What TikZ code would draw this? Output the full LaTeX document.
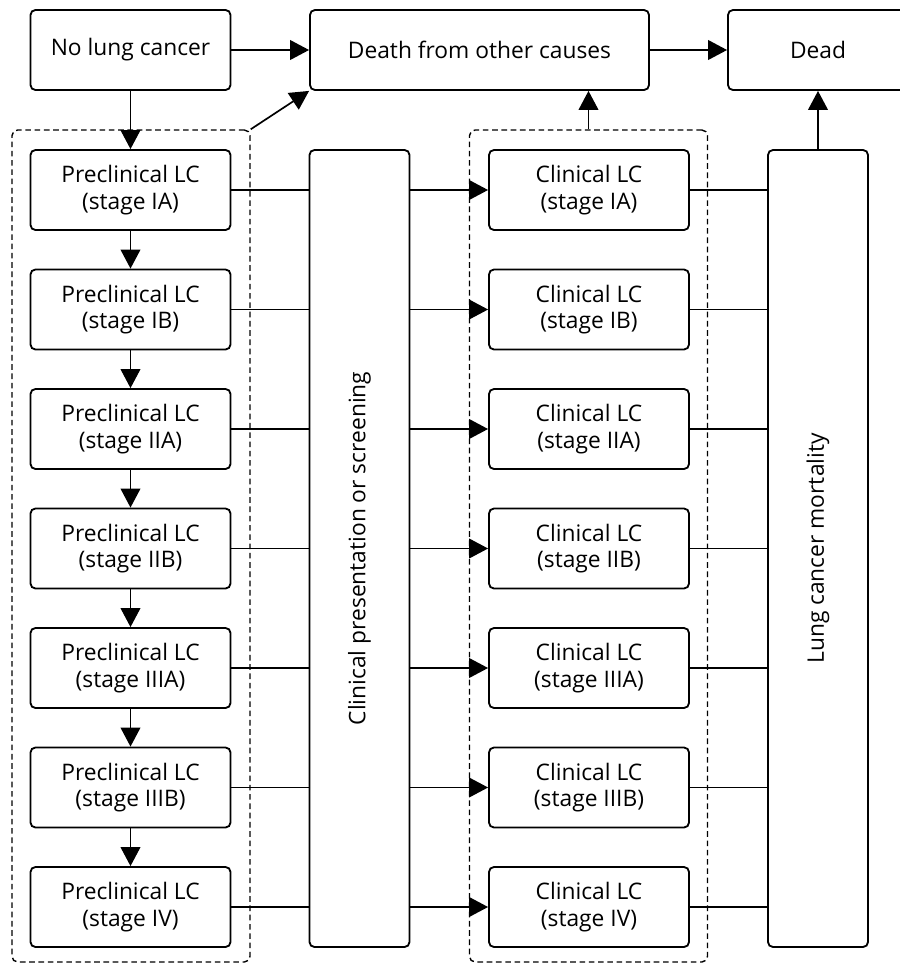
\documentclass[tikz,border=0pt]{standalone}
\usepackage{fontspec}
\setmainfont{Open Sans}
\usepackage{tikz}
\usetikzlibrary{arrows.meta}

\begin{document}
\begin{tikzpicture}[scale=0.25,
  box/.style={draw=black, line width=1.3pt, rounded corners=3.5pt, align=center,
    inner sep=0pt, font=\fontsize{16.2}{19}\selectfont},
  stagebox/.style={box, minimum width=5cm, minimum height=2cm},
  tallbox/.style={box, minimum width=2.5cm, minimum height=19.925cm},
  group/.style={draw=black, line width=1pt, dash pattern=on 4pt off 2.6pt, rounded corners=4pt,
    minimum width=5.95cm, minimum height=20.8cm, inner sep=0pt},
  link/.style={black, line width=1.2pt},
  arr/.style={link, -{Triangle[length=13.5pt,width=14pt]}}]
\useasboundingbox (0,0) rectangle (89.9,-96.5);
% top row
\node [stagebox] (nolc) at (13.05,-5.0) {No lung cancer};
\node [box, minimum width=8.475cm, minimum height=2cm] (other) at (47.95,-5.0) {Death from other causes};
\node [box, minimum width=4.5cm, minimum height=2cm] (dead) at (81.8,-5.0) {Dead};
% dashed groups
\node [group] (pregrp) at (13.1,-54.6) {};
\node [group] (clingrp) at (58.85,-54.6) {};
% preclinical stages
\node [stagebox] (pre1) at (13.05,-19.0) {Preclinical LC\\(stage IA)};
\node [stagebox] (pre2) at (13.05,-30.95) {Preclinical LC\\(stage IB)};
\node [stagebox] (pre3) at (13.05,-42.9) {Preclinical LC\\(stage IIA)};
\node [stagebox] (pre4) at (13.05,-54.85) {Preclinical LC\\(stage IIB)};
\node [stagebox] (pre5) at (13.05,-66.8) {Preclinical LC\\(stage IIIA)};
\node [stagebox] (pre6) at (13.05,-78.75) {Preclinical LC\\(stage IIIB)};
\node [stagebox] (pre7) at (13.05,-90.7) {Preclinical LC\\(stage IV)};
% clinical stages
\node [stagebox] (clin1) at (58.9,-19.0) {Clinical LC\\(stage IA)};
\node [stagebox] (clin2) at (58.9,-30.95) {Clinical LC\\(stage IB)};
\node [stagebox] (clin3) at (58.9,-42.9) {Clinical LC\\(stage IIA)};
\node [stagebox] (clin4) at (58.9,-54.85) {Clinical LC\\(stage IIB)};
\node [stagebox] (clin5) at (58.9,-66.8) {Clinical LC\\(stage IIIA)};
\node [stagebox] (clin6) at (58.9,-78.75) {Clinical LC\\(stage IIIB)};
\node [stagebox] (clin7) at (58.9,-90.7) {Clinical LC\\(stage IV)};
% tall boxes
\node [tallbox] (pres) at (35.95,-54.85) {};
\node [rotate=90, font=\fontsize{16.2}{19}\selectfont] (prestext) at (pres.center) {Clinical presentation or screening};
\node [tallbox] (mort) at (81.8,-54.85) {};
\node [rotate=90, font=\fontsize{16.2}{19}\selectfont] (morttext) at (mort.center) {Lung cancer mortality};
% top arrows
\draw [arr] (nolc) -- (other);
\draw [arr] (other) -- (dead);
\draw [arr] (nolc) -- (pre1);
\draw [arr] (pregrp.north east) -- (other.south west);
\draw [arr] (clingrp.north) -- (clingrp.north |- other.south);
\draw [arr] (mort.north) -- (dead.south);
% progression
\draw [arr] (pre1) -- (pre2);
\draw [arr] (pre2) -- (pre3);
\draw [arr] (pre3) -- (pre4);
\draw [arr] (pre4) -- (pre5);
\draw [arr] (pre5) -- (pre6);
\draw [arr] (pre6) -- (pre7);
% to presentation
\draw [link] (pre1.east) -- (pre1 -| pres.west);
\draw [link] (pre2.east) -- (pre2 -| pres.west);
\draw [link] (pre3.east) -- (pre3 -| pres.west);
\draw [link] (pre4.east) -- (pre4 -| pres.west);
\draw [link] (pre5.east) -- (pre5 -| pres.west);
\draw [link] (pre6.east) -- (pre6 -| pres.west);
\draw [link] (pre7.east) -- (pre7 -| pres.west);
% to clinical
\draw [arr] (clin1 -| pres.east) -- (clin1.west);
\draw [arr] (clin2 -| pres.east) -- (clin2.west);
\draw [arr] (clin3 -| pres.east) -- (clin3.west);
\draw [arr] (clin4 -| pres.east) -- (clin4.west);
\draw [arr] (clin5 -| pres.east) -- (clin5.west);
\draw [arr] (clin6 -| pres.east) -- (clin6.west);
\draw [arr] (clin7 -| pres.east) -- (clin7.west);
% to mortality
\draw [link] (clin1.east) -- (clin1 -| mort.west);
\draw [link] (clin2.east) -- (clin2 -| mort.west);
\draw [link] (clin3.east) -- (clin3 -| mort.west);
\draw [link] (clin4.east) -- (clin4 -| mort.west);
\draw [link] (clin5.east) -- (clin5 -| mort.west);
\draw [link] (clin6.east) -- (clin6 -| mort.west);
\draw [link] (clin7.east) -- (clin7 -| mort.west);
\end{tikzpicture}
\end{document}
